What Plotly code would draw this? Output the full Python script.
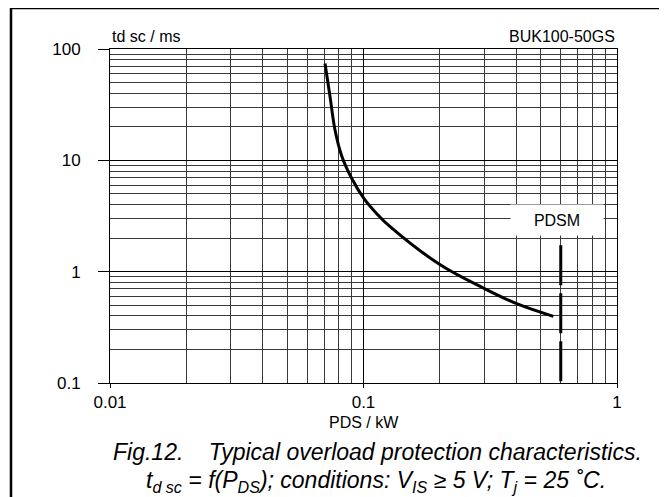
import math
import plotly.graph_objects as go

# ---- data ----
pds_kw = [0.0705, 0.0738, 0.0772, 0.082, 0.0898, 0.1, 0.113, 0.127, 0.2, 0.3, 0.402, 0.561]
td_sc_ms = [74, 37.3, 18.7, 11.0, 6.9, 4.6, 3.3, 2.55, 1.16, 0.705, 0.516, 0.397]

pdsm_x = [0.6, 0.6]
pdsm_y = [1.73, 0.1]
pdsm_label = "PDSM"
pdsm_label_y = 2.9

x_major = [0.01, 0.1, 1]
x_major_text = ["0.01", "0.1", "1"]
y_major = [0.1, 1, 10, 100]
y_major_text = ["0.1", "1", "10", "100"]
x_minor = [k * 10 ** e for e in (-2, -1) for k in range(2, 10)]
y_minor = [k * 10 ** e for e in (-1, 0, 1) for k in range(2, 10)]

# page body margin of the browser (8px) -> work in reference pixel coords
OFF = 8
W, H = 667 - OFF, 497 - OFF
PL, PR, PT, PB = 110, 617, 49, 383          # plot area in reference pixels
ML, MR, MT = PL - OFF, 667 - PR, PT - OFF
MB = 497 - PB
PW, PH = PR - PL, PB - PT


def px2paper_x(px):
    return (px - PL) / PW


def px2paper_y(py):
    return (PB - py) / PH


FONT = "Liberation Sans"

fig = go.Figure()
fig.add_trace(go.Scatter(x=pds_kw, y=td_sc_ms, mode="lines",
                         line=dict(color="black", width=3, shape="spline", smoothing=1.0),
                         showlegend=False, hoverinfo="skip"))
fig.add_trace(go.Scatter(x=pdsm_x, y=pdsm_y, mode="lines",
                         line=dict(color="black", width=3, dash="40px,8px"),
                         showlegend=False, hoverinfo="skip"))

axis_common = dict(
    type="log", showline=True, linecolor="black", linewidth=1, mirror=True,
    showgrid=True, gridcolor="black", gridwidth=1, zeroline=False,
    ticks="outside", tickcolor="black", tickwidth=1,
    tickfont=dict(family=FONT, size=17, color="black"),
)

fig.update_xaxes(**axis_common, range=[-2, 0], tickmode="array",
                 tickvals=x_major, ticktext=x_major_text, ticklen=4,
                 minor=dict(tickmode="array", tickvals=x_minor, showgrid=True,
                            gridcolor="#3a3a3a", gridwidth=1, ticks=""))
fig.update_yaxes(**axis_common, range=[-1, 2], tickmode="array",
                 tickvals=y_major, ticktext=y_major_text, ticklen=11,
                 ticklabelstandoff=14,
                 minor=dict(tickmode="array", tickvals=y_minor, showgrid=True,
                            gridcolor="#3a3a3a", gridwidth=1, ticks=""))

annotations = [
    dict(text="td sc / ms", xref="paper", yref="paper", x=0, y=px2paper_y(37),
         xanchor="left", yanchor="middle", showarrow=False,
         font=dict(family=FONT, size=16, color="black")),
    dict(text="BUK100-50GS", xref="paper", yref="paper", x=1, y=px2paper_y(37),
         xanchor="right", yanchor="middle", showarrow=False,
         font=dict(family=FONT, size=16, color="black")),
    dict(text="PDS / kW", xref="paper", yref="paper", x=0.5, y=px2paper_y(422),
         xanchor="center", yanchor="middle", showarrow=False,
         font=dict(family=FONT, size=16, color="black")),
    dict(text=pdsm_label, xref="x", yref="y", x=math.log10(pdsm_x[0]),
         y=math.log10(pdsm_label_y), xanchor="center", yanchor="middle", xshift=-4,
         showarrow=False, bgcolor="white", width=88, height=26, borderpad=2,
         font=dict(family=FONT, size=16, color="black")),
    dict(text="<i>Fig.12.    Typical overload protection characteristics.</i>",
         xref="paper", yref="paper", x=px2paper_x(377), y=px2paper_y(452),
         xanchor="center", yanchor="middle", showarrow=False,
         font=dict(family=FONT, size=23, color="black")),
    dict(text="<i>t<sub>d sc</sub> = f(P<sub>DS</sub>); conditions: V<sub>IS</sub> \u2265 5 V; "
              "T<sub>j</sub> = 25 \u02daC.</i>",
         xref="paper", yref="paper", x=px2paper_x(376), y=px2paper_y(481),
         xanchor="center", yanchor="middle", showarrow=False,
         font=dict(family=FONT, size=23, color="black")),
]

shapes = [
    dict(type="rect", xref="paper", yref="paper",
         x0=px2paper_x(11), x1=px2paper_x(661), y0=px2paper_y(505), y1=px2paper_y(8),
         line=dict(color="black", width=2.5), fillcolor="rgba(0,0,0,0)", layer="above"),
]

fig.update_layout(
    width=W, height=H, margin=dict(l=ML, r=MR, t=MT, b=MB),
    paper_bgcolor="white", plot_bgcolor="white",
    annotations=annotations, shapes=shapes,
    font=dict(family=FONT, color="black"),
)

fig.write_html("out.html")
